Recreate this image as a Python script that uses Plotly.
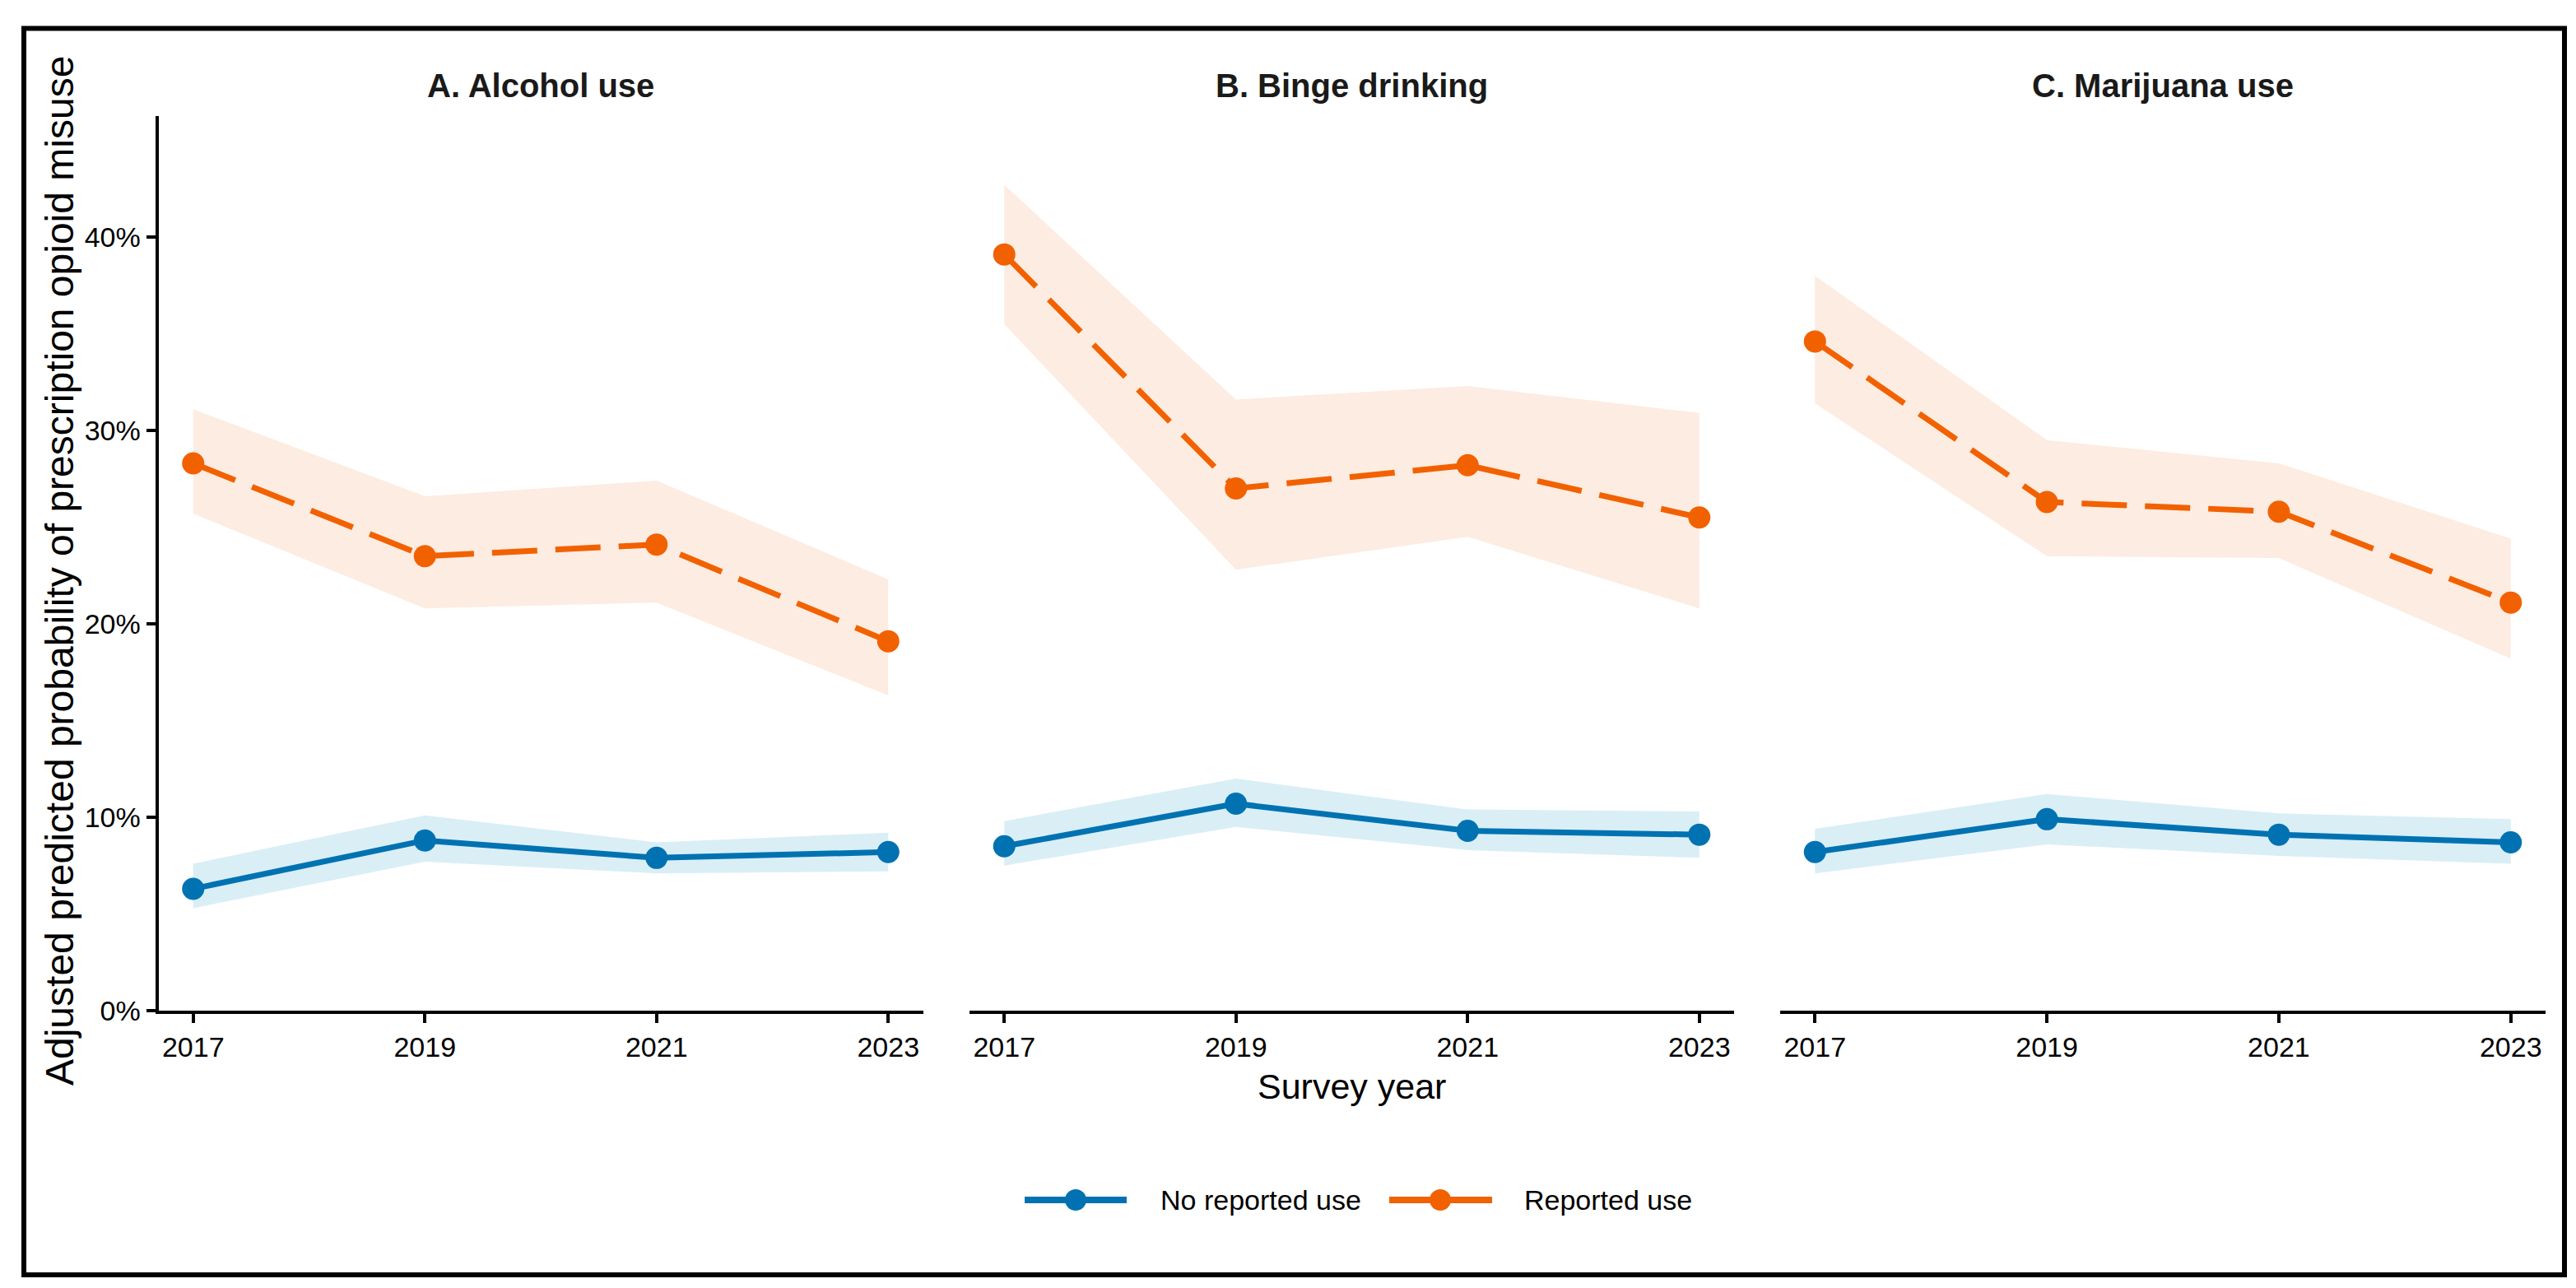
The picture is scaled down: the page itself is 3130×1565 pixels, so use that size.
import plotly.graph_objects as go

# Datos (probabilidad predicha, %)
years = [2017, 2019, 2021, 2023]
panel_titles = ["A. Alcohol use", "B. Binge drinking", "C. Marijuana use"]
group_labels = ["No reported use", "Reported use"]

alcohol_none = [6.3, 8.8, 7.9, 8.2]
alcohol_none_lo = [5.3, 7.7, 7.1, 7.2]
alcohol_none_hi = [7.6, 10.1, 8.7, 9.2]
alcohol_rep = [28.3, 23.5, 24.1, 19.1]
alcohol_rep_lo = [25.7, 20.8, 21.1, 16.3]
alcohol_rep_hi = [31.1, 26.6, 27.4, 22.3]

binge_none = [8.5, 10.7, 9.3, 9.1]
binge_none_lo = [7.5, 9.5, 8.3, 7.9]
binge_none_hi = [9.8, 12.0, 10.4, 10.3]
binge_rep = [39.1, 27.0, 28.2, 25.5]
binge_rep_lo = [35.5, 22.8, 24.5, 20.8]
binge_rep_hi = [42.7, 31.6, 32.3, 30.9]

marijuana_none = [8.2, 9.9, 9.1, 8.7]
marijuana_none_lo = [7.1, 8.6, 8.0, 7.6]
marijuana_none_hi = [9.4, 11.2, 10.2, 9.9]
marijuana_rep = [34.6, 26.3, 25.8, 21.1]
marijuana_rep_lo = [31.4, 23.5, 23.4, 18.2]
marijuana_rep_hi = [38.0, 29.5, 28.3, 24.4]

y_ticks = [0, 10, 20, 30, 40]
y_tick_labels = ["0%", "10%", "20%", "30%", "40%"]

W, H = 3130, 1565
FONT = "Liberation Sans, Arial, Helvetica, sans-serif"
BLUE = "#0072B2"
ORANGE = "#F26100"
BLUE_FILL = "#DAEEF6"
ORANGE_FILL = "#FDECE1"


def px_x(p):
    return p / W


def px_y(p):
    return 1 - p / H


panels = [
    (alcohol_none, alcohol_none_lo, alcohol_none_hi, alcohol_rep, alcohol_rep_lo, alcohol_rep_hi),
    (binge_none, binge_none_lo, binge_none_hi, binge_rep, binge_rep_lo, binge_rep_hi),
    (marijuana_none, marijuana_none_lo, marijuana_none_hi, marijuana_rep, marijuana_rep_lo, marijuana_rep_hi),
]
domains = [(184.5, 1113.5), (1170, 2099), (2155, 3085)]

fig = go.Figure()

for i, (n, n_lo, n_hi, r, r_lo, r_hi) in enumerate(panels):
    xa = "x" if i == 0 else f"x{i + 1}"
    ya = "y" if i == 0 else f"y{i + 1}"
    # bandas de confianza
    for lo, hi, fc in [(n_lo, n_hi, BLUE_FILL), (r_lo, r_hi, ORANGE_FILL)]:
        fig.add_trace(go.Scatter(
            x=years + years[::-1], y=hi + lo[::-1],
            fill="toself", fillcolor=fc, mode="lines", line=dict(width=0),
            hoverinfo="skip", showlegend=False, xaxis=xa, yaxis=ya,
        ))
    # lineas y puntos
    fig.add_trace(go.Scatter(
        x=years, y=n, mode="lines+markers", name=group_labels[0],
        line=dict(color=BLUE, width=7),
        marker=dict(size=27, color=BLUE),
        showlegend=False, xaxis=xa, yaxis=ya,
    ))
    fig.add_trace(go.Scatter(
        x=years, y=r, mode="lines+markers", name=group_labels[1],
        line=dict(color=ORANGE, width=7, dash="55px,22px"),
        marker=dict(size=27, color=ORANGE),
        showlegend=False, xaxis=xa, yaxis=ya,
    ))

y_top = (1220 - 133) / 23.5
axis_common = dict(
    showgrid=False, zeroline=False, showline=True, linecolor="black", linewidth=4,
    ticks="outside", ticklen=11, tickwidth=4, tickcolor="black",
    tickfont=dict(family=FONT, size=34, color="black"),
)
layout_axes = {}
for i, (d0, d1) in enumerate(domains):
    sx = "" if i == 0 else str(i + 1)
    layout_axes[f"xaxis{sx}"] = dict(
        axis_common, domain=[px_x(d0), px_x(d1)], range=[2016.7, 2023.3],
        tickmode="array", tickvals=years, ticktext=[str(y) for y in years],
        anchor=f"y{sx}",
    )
    if i == 0:
        layout_axes["yaxis"] = dict(
            axis_common, domain=[px_y(1220), px_y(133)], range=[0, y_top],
            tickmode="array", tickvals=y_ticks, ticktext=y_tick_labels, anchor="x",
        )
    else:
        layout_axes[f"yaxis{sx}"] = dict(
            domain=[px_y(1220), px_y(133)], range=[0, y_top],
            showgrid=False, zeroline=False, showline=False, ticks="",
            showticklabels=False, anchor=f"x{sx}",
        )

annotations = []
for (d0, d1), t in zip(domains, panel_titles):
    annotations.append(dict(
        text=f"<b>{t}</b>", x=px_x((d0 + d1) / 2), y=px_y(96), xref="paper", yref="paper",
        showarrow=False, xanchor="center", yanchor="middle",
        font=dict(family=FONT, size=40, color="#1a1a1a"),
    ))
annotations.append(dict(
    text="Survey year", x=px_x(1634), y=px_y(1312), xref="paper", yref="paper",
    showarrow=False, xanchor="center", yanchor="middle",
    font=dict(family=FONT, size=43, color="black"),
))
annotations.append(dict(
    text="Adjusted predicted probability of prescription opioid misuse",
    x=px_x(64), y=px_y(686), xref="paper", yref="paper", textangle=-90,
    showarrow=False, xanchor="center", yanchor="middle",
    font=dict(family=FONT, size=48, color="black"),
))

# leyenda dibujada a mano (lineas largas como en ggplot)
shapes = [dict(
    type="rect", xref="paper", yref="paper",
    x0=px_x(21), x1=px_x(3108), y0=px_y(1541), y1=px_y(26.5),
    line=dict(color="black", width=6), fillcolor="rgba(0,0,0,0)", layer="above",
)]
legend_y = px_y(1450)
for (k0, k1, kc, tx), lab, col in zip(
        [(1237, 1361, 1299, 1400), (1680, 1805, 1742, 1842)], group_labels, [BLUE, ORANGE]):
    shapes.append(dict(
        type="line", xref="paper", yref="paper", x0=px_x(k0), x1=px_x(k1),
        y0=legend_y, y1=legend_y, line=dict(color=col, width=8),
    ))
    shapes.append(dict(
        type="circle", xref="paper", yref="paper", xsizemode="pixel", ysizemode="pixel",
        xanchor=px_x(kc), yanchor=legend_y, x0=-13, x1=13, y0=-13, y1=13,
        fillcolor=col, line=dict(width=0),
    ))
    annotations.append(dict(
        text=lab, x=px_x(tx), y=legend_y, xref="paper", yref="paper",
        showarrow=False, xanchor="left", yanchor="middle",
        font=dict(family=FONT, size=34, color="black"),
    ))

fig.update_layout(
    template="none",
    width=W, height=H,
    margin=dict(l=0, r=0, t=0, b=0),
    paper_bgcolor="white", plot_bgcolor="white",
    font=dict(family=FONT, color="black"),
    showlegend=False,
    annotations=annotations,
    shapes=shapes,
    **layout_axes,
)

fig.write_html("out.html")
